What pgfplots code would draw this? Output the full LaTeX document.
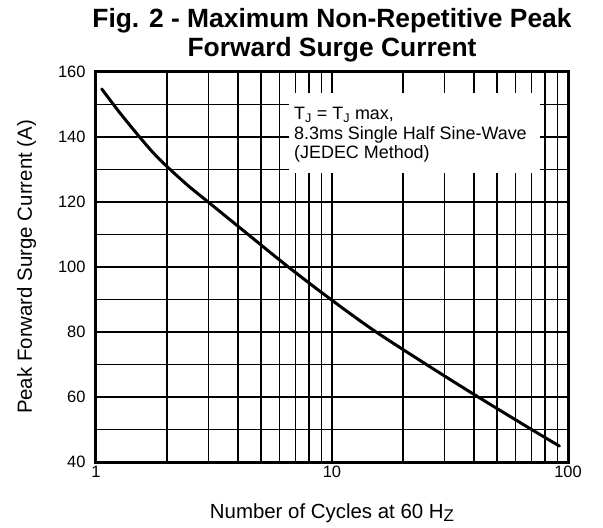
\documentclass[border=0pt]{standalone}
\usepackage{fontspec}
\setmainfont{Liberation Sans}
\usepackage{pgfplots}
\pgfplotsset{compat=1.18}
\begin{document}
\begin{tikzpicture}
\useasboundingbox (-96bp,-66bp) rectangle (507bp,462bp);
\begin{axis}[
  at={(0,0)}, anchor=south west,
  scale only axis, width=472bp, height=390bp,
  xmode=log, xmin=1, xmax=100, ymin=40, ymax=160,
  xtick={1,10,100}, xticklabels={1,10,100},
  minor xtick={2,3,4,5,6,7,8,9,20,30,40,50,60,70,80,90},
  ytick={40,60,80,100,120,140,160}, minor ytick={50,70,90,110,130,150},
  grid=both,
  major grid style={black, line width=1.3bp},
  minor grid style={black, line width=1.3bp},
  major tick length=0pt, minor tick length=0pt,
  axis line style={line width=3bp},
  /pgf/number format/assume math mode=true,
  tick label style={font=\fontsize{16.5}{18}\selectfont},
  yticklabel style={xshift=-7bp},
  xticklabel style={yshift=-1bp},
  xlabel={Number of Cycles at 60 H\raisebox{-0.35ex}{\fontsize{17}{17}\selectfont Z}},
  ylabel={Peak Forward Surge Current (A)},
  label style={font=\fontsize{20.5}{24}\selectfont},
  xlabel style={at={(axis description cs:0.5,-0.1436)}, anchor=base},
  ylabel style={at={(axis description cs:-0.1356,0.5)}, anchor=base},
  title={Fig. 2 - Maximum Non-Repetitive Peak\\Forward Surge Current},
  title style={at={(axis description cs:0.5,1.009)}, anchor=south, align=center, inner sep=0pt, font=\fontsize{26.5}{29}\selectfont\bfseries},
  clip=false,
]
\fill[white] (axis cs:6.56,153.5) rectangle (axis cs:76,128.9);
\addplot[black, line width=3bp, smooth, line join=round, line cap=round] coordinates {
 (1.057,154.8) (1.26,147.5) (1.51,140.5) (1.75,135.1) (2,130.9) (2.45,125.1) (3,119.9) (4.38,110.2) (6.48,100.2) (9.9,90) (15.1,80.4) (25.5,69.7) (41,60.3) (69,50.3) (92,44.9)
};
\node[anchor=west, align=left, inner sep=0pt, font=\fontsize{18}{19.5}\selectfont] at (axis cs:6.9,140.6)
 {T\textsubscript{J} = T\textsubscript{J} max,\\8.3ms Single Half Sine-Wave\\(JEDEC Method)};
\end{axis}
\end{tikzpicture}
\end{document}
